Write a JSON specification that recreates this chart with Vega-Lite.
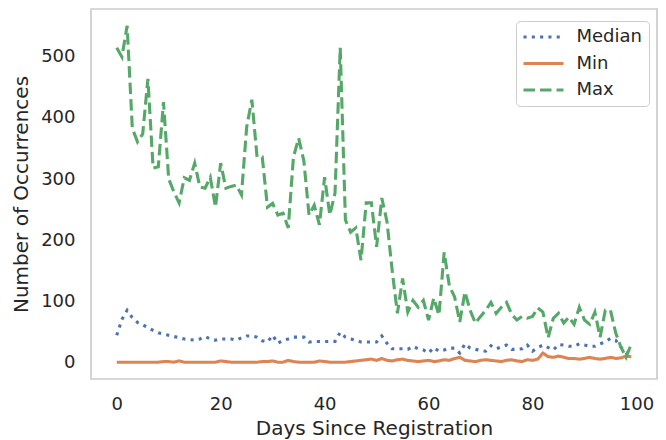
{
  "$schema": "https://vega.github.io/schema/vega-lite/v6.json",
  "width": 566,
  "height": 370,
  "autosize": {"type": "none"},
  "padding": {"left": 91, "top": 9, "right": 9, "bottom": 61},
  "background": "white",
  "config": {
    "view": {"stroke": "#cccccc", "strokeWidth": 1.7},
    "axis": {"domain": false, "ticks": false, "grid": false, "labelFont": "DejaVu Sans", "labelFontSize": 18, "labelColor": "#262626", "labelPadding": 16, "titleFont": "DejaVu Sans", "titleFontSize": 20, "titleColor": "#262626", "titleFontWeight": "normal"},
    "legend": {"labelFont": "DejaVu Sans", "labelFontSize": 18, "labelColor": "#262626"}
  },
  "data": {"values": [
{"day":0,"series":"Median","value":44},{"day":1,"series":"Median","value":70},{"day":2,"series":"Median","value":85},{"day":3,"series":"Median","value":73},{"day":4,"series":"Median","value":65},{"day":5,"series":"Median","value":61},{"day":6,"series":"Median","value":57},{"day":7,"series":"Median","value":52},{"day":8,"series":"Median","value":48},{"day":9,"series":"Median","value":46},
{"day":10,"series":"Median","value":44},{"day":11,"series":"Median","value":42},{"day":12,"series":"Median","value":40},{"day":13,"series":"Median","value":38},{"day":14,"series":"Median","value":37},{"day":15,"series":"Median","value":36},{"day":16,"series":"Median","value":38},{"day":17,"series":"Median","value":42},{"day":18,"series":"Median","value":38},{"day":19,"series":"Median","value":36},
{"day":20,"series":"Median","value":38},{"day":21,"series":"Median","value":38},{"day":22,"series":"Median","value":38},{"day":23,"series":"Median","value":36},{"day":24,"series":"Median","value":40},{"day":25,"series":"Median","value":43},{"day":26,"series":"Median","value":43},{"day":27,"series":"Median","value":41},{"day":28,"series":"Median","value":35},{"day":29,"series":"Median","value":33},
{"day":30,"series":"Median","value":44},{"day":31,"series":"Median","value":31},{"day":32,"series":"Median","value":36},{"day":33,"series":"Median","value":38},{"day":34,"series":"Median","value":41},{"day":35,"series":"Median","value":41},{"day":36,"series":"Median","value":41},{"day":37,"series":"Median","value":33},{"day":38,"series":"Median","value":34},{"day":39,"series":"Median","value":34},
{"day":40,"series":"Median","value":34},{"day":41,"series":"Median","value":34},{"day":42,"series":"Median","value":34},{"day":43,"series":"Median","value":49},{"day":44,"series":"Median","value":41},{"day":45,"series":"Median","value":38},{"day":46,"series":"Median","value":36},{"day":47,"series":"Median","value":33},{"day":48,"series":"Median","value":33},{"day":49,"series":"Median","value":33},
{"day":50,"series":"Median","value":33},{"day":51,"series":"Median","value":43},{"day":52,"series":"Median","value":31},{"day":53,"series":"Median","value":22},{"day":54,"series":"Median","value":22},{"day":55,"series":"Median","value":22},{"day":56,"series":"Median","value":21},{"day":57,"series":"Median","value":26},{"day":58,"series":"Median","value":22},{"day":59,"series":"Median","value":20},
{"day":60,"series":"Median","value":15},{"day":61,"series":"Median","value":24},{"day":62,"series":"Median","value":18},{"day":63,"series":"Median","value":20},{"day":64,"series":"Median","value":23},{"day":65,"series":"Median","value":23},{"day":66,"series":"Median","value":15},{"day":67,"series":"Median","value":30},{"day":68,"series":"Median","value":23},{"day":69,"series":"Median","value":21},
{"day":70,"series":"Median","value":19},{"day":71,"series":"Median","value":18},{"day":72,"series":"Median","value":27},{"day":73,"series":"Median","value":22},{"day":74,"series":"Median","value":25},{"day":75,"series":"Median","value":28},{"day":76,"series":"Median","value":21},{"day":77,"series":"Median","value":21},{"day":78,"series":"Median","value":22},{"day":79,"series":"Median","value":28},
{"day":80,"series":"Median","value":18},{"day":81,"series":"Median","value":24},{"day":82,"series":"Median","value":28},{"day":83,"series":"Median","value":24},{"day":84,"series":"Median","value":20},{"day":85,"series":"Median","value":29},{"day":86,"series":"Median","value":28},{"day":87,"series":"Median","value":26},{"day":88,"series":"Median","value":26},{"day":89,"series":"Median","value":30},
{"day":90,"series":"Median","value":28},{"day":91,"series":"Median","value":26},{"day":92,"series":"Median","value":26},{"day":93,"series":"Median","value":30},{"day":94,"series":"Median","value":33},{"day":95,"series":"Median","value":39},{"day":96,"series":"Median","value":36},{"day":97,"series":"Median","value":25},{"day":98,"series":"Median","value":15},{"day":99,"series":"Median","value":16},
{"day":0,"series":"Min","value":0},{"day":1,"series":"Min","value":0},{"day":2,"series":"Min","value":0},{"day":3,"series":"Min","value":0},{"day":4,"series":"Min","value":0},{"day":5,"series":"Min","value":0},{"day":6,"series":"Min","value":0},{"day":7,"series":"Min","value":0},{"day":8,"series":"Min","value":0},{"day":9,"series":"Min","value":1},
{"day":10,"series":"Min","value":1},{"day":11,"series":"Min","value":0},{"day":12,"series":"Min","value":2},{"day":13,"series":"Min","value":0},{"day":14,"series":"Min","value":0},{"day":15,"series":"Min","value":0},{"day":16,"series":"Min","value":0},{"day":17,"series":"Min","value":0},{"day":18,"series":"Min","value":0},{"day":19,"series":"Min","value":0},
{"day":20,"series":"Min","value":2},{"day":21,"series":"Min","value":1},{"day":22,"series":"Min","value":0},{"day":23,"series":"Min","value":0},{"day":24,"series":"Min","value":0},{"day":25,"series":"Min","value":0},{"day":26,"series":"Min","value":0},{"day":27,"series":"Min","value":0},{"day":28,"series":"Min","value":1},{"day":29,"series":"Min","value":1},
{"day":30,"series":"Min","value":2},{"day":31,"series":"Min","value":0},{"day":32,"series":"Min","value":0},{"day":33,"series":"Min","value":3},{"day":34,"series":"Min","value":1},{"day":35,"series":"Min","value":0},{"day":36,"series":"Min","value":0},{"day":37,"series":"Min","value":0},{"day":38,"series":"Min","value":0},{"day":39,"series":"Min","value":2},
{"day":40,"series":"Min","value":1},{"day":41,"series":"Min","value":0},{"day":42,"series":"Min","value":0},{"day":43,"series":"Min","value":0},{"day":44,"series":"Min","value":0},{"day":45,"series":"Min","value":1},{"day":46,"series":"Min","value":2},{"day":47,"series":"Min","value":3},{"day":48,"series":"Min","value":4},{"day":49,"series":"Min","value":5},
{"day":50,"series":"Min","value":3},{"day":51,"series":"Min","value":6},{"day":52,"series":"Min","value":3},{"day":53,"series":"Min","value":2},{"day":54,"series":"Min","value":4},{"day":55,"series":"Min","value":5},{"day":56,"series":"Min","value":3},{"day":57,"series":"Min","value":2},{"day":58,"series":"Min","value":1},{"day":59,"series":"Min","value":2},
{"day":60,"series":"Min","value":3},{"day":61,"series":"Min","value":1},{"day":62,"series":"Min","value":2},{"day":63,"series":"Min","value":4},{"day":64,"series":"Min","value":3},{"day":65,"series":"Min","value":6},{"day":66,"series":"Min","value":8},{"day":67,"series":"Min","value":3},{"day":68,"series":"Min","value":2},{"day":69,"series":"Min","value":1},
{"day":70,"series":"Min","value":3},{"day":71,"series":"Min","value":4},{"day":72,"series":"Min","value":3},{"day":73,"series":"Min","value":2},{"day":74,"series":"Min","value":1},{"day":75,"series":"Min","value":3},{"day":76,"series":"Min","value":4},{"day":77,"series":"Min","value":2},{"day":78,"series":"Min","value":1},{"day":79,"series":"Min","value":4},
{"day":80,"series":"Min","value":3},{"day":81,"series":"Min","value":5},{"day":82,"series":"Min","value":15},{"day":83,"series":"Min","value":9},{"day":84,"series":"Min","value":8},{"day":85,"series":"Min","value":10},{"day":86,"series":"Min","value":8},{"day":87,"series":"Min","value":6},{"day":88,"series":"Min","value":6},{"day":89,"series":"Min","value":5},
{"day":90,"series":"Min","value":6},{"day":91,"series":"Min","value":8},{"day":92,"series":"Min","value":6},{"day":93,"series":"Min","value":5},{"day":94,"series":"Min","value":6},{"day":95,"series":"Min","value":8},{"day":96,"series":"Min","value":6},{"day":97,"series":"Min","value":7},{"day":98,"series":"Min","value":10},{"day":99,"series":"Min","value":9},
{"day":0,"series":"Max","value":515},{"day":1,"series":"Max","value":500},{"day":2,"series":"Max","value":551},{"day":3,"series":"Max","value":383},{"day":4,"series":"Max","value":361},{"day":5,"series":"Max","value":374},{"day":6,"series":"Max","value":464},{"day":7,"series":"Max","value":318},{"day":8,"series":"Max","value":320},{"day":9,"series":"Max","value":426},
{"day":10,"series":"Max","value":300},{"day":11,"series":"Max","value":279},{"day":12,"series":"Max","value":261},{"day":13,"series":"Max","value":302},{"day":14,"series":"Max","value":298},{"day":15,"series":"Max","value":326},{"day":16,"series":"Max","value":287},{"day":17,"series":"Max","value":285},{"day":18,"series":"Max","value":303},{"day":19,"series":"Max","value":254},
{"day":20,"series":"Max","value":326},{"day":21,"series":"Max","value":285},{"day":22,"series":"Max","value":288},{"day":23,"series":"Max","value":290},{"day":24,"series":"Max","value":274},{"day":25,"series":"Max","value":385},{"day":26,"series":"Max","value":430},{"day":27,"series":"Max","value":336},{"day":28,"series":"Max","value":336},{"day":29,"series":"Max","value":254},
{"day":30,"series":"Max","value":260},{"day":31,"series":"Max","value":241},{"day":32,"series":"Max","value":244},{"day":33,"series":"Max","value":220},{"day":34,"series":"Max","value":336},{"day":35,"series":"Max","value":367},{"day":36,"series":"Max","value":330},{"day":37,"series":"Max","value":241},{"day":38,"series":"Max","value":257},{"day":39,"series":"Max","value":225},
{"day":40,"series":"Max","value":303},{"day":41,"series":"Max","value":241},{"day":42,"series":"Max","value":277},{"day":43,"series":"Max","value":515},{"day":44,"series":"Max","value":233},{"day":45,"series":"Max","value":213},{"day":46,"series":"Max","value":220},{"day":47,"series":"Max","value":167},{"day":48,"series":"Max","value":261},{"day":49,"series":"Max","value":261},
{"day":50,"series":"Max","value":189},{"day":51,"series":"Max","value":269},{"day":52,"series":"Max","value":230},{"day":53,"series":"Max","value":150},{"day":54,"series":"Max","value":80},{"day":55,"series":"Max","value":137},{"day":56,"series":"Max","value":82},{"day":57,"series":"Max","value":101},{"day":58,"series":"Max","value":90},{"day":59,"series":"Max","value":101},
{"day":60,"series":"Max","value":69},{"day":61,"series":"Max","value":105},{"day":62,"series":"Max","value":77},{"day":63,"series":"Max","value":180},{"day":64,"series":"Max","value":125},{"day":65,"series":"Max","value":107},{"day":66,"series":"Max","value":66},{"day":67,"series":"Max","value":115},{"day":68,"series":"Max","value":85},{"day":69,"series":"Max","value":64},
{"day":70,"series":"Max","value":75},{"day":71,"series":"Max","value":85},{"day":72,"series":"Max","value":98},{"day":73,"series":"Max","value":80},{"day":74,"series":"Max","value":90},{"day":75,"series":"Max","value":98},{"day":76,"series":"Max","value":78},{"day":77,"series":"Max","value":69},{"day":78,"series":"Max","value":75},{"day":79,"series":"Max","value":72},
{"day":80,"series":"Max","value":75},{"day":81,"series":"Max","value":89},{"day":82,"series":"Max","value":82},{"day":83,"series":"Max","value":40},{"day":84,"series":"Max","value":72},{"day":85,"series":"Max","value":80},{"day":86,"series":"Max","value":64},{"day":87,"series":"Max","value":74},{"day":88,"series":"Max","value":62},{"day":89,"series":"Max","value":90},
{"day":90,"series":"Max","value":69},{"day":91,"series":"Max","value":62},{"day":92,"series":"Max","value":82},{"day":93,"series":"Max","value":41},{"day":94,"series":"Max","value":85},{"day":95,"series":"Max","value":85},{"day":96,"series":"Max","value":48},{"day":97,"series":"Max","value":25},{"day":98,"series":"Max","value":8},{"day":99,"series":"Max","value":30}
  ]},
  "mark": {"type": "line", "strokeWidth": 3.1, "strokeCap": "butt", "clip": true},
  "encoding": {
    "x": {"field": "day", "type": "quantitative", "title": "Days Since Registration",
          "scale": {"domain": [-4.95, 103.95], "nice": false, "zero": false},
          "axis": {"values": [0, 20, 40, 60, 80, 100], "titlePadding": 5}},
    "y": {"field": "value", "type": "quantitative", "title": "Number of Occurrences",
          "scale": {"domain": [-27.55, 578.55], "nice": false, "zero": false},
          "axis": {"values": [0, 100, 200, 300, 400, 500], "titlePadding": 9}},
    "color": {"field": "series", "type": "nominal",
              "scale": {"domain": ["Median", "Min", "Max"], "range": ["#4c72b0", "#dd8452", "#55a868"]},
              "legend": {"title": null, "orient": "none", "legendX": 425, "legendY": 12, "padding": 7, "cornerRadius": 4, "strokeColor": "#cccccc", "fillColor": "rgba(255,255,255,0.8)", "symbolType": "M-3,0L3,0", "symbolSize": 178, "symbolStrokeWidth": 3, "symbolOffset": 11.5, "labelOffset": 24, "rowPadding": 8.5}},
    "strokeDash": {"field": "series", "type": "nominal",
              "scale": {"domain": ["Median", "Min", "Max"], "range": [[3.1, 5.2], [1, 0], [11.5, 5]]},
              "legend": {"title": null, "orient": "none", "legendX": 425, "legendY": 12, "padding": 7, "cornerRadius": 4, "strokeColor": "#cccccc", "fillColor": "rgba(255,255,255,0.8)", "symbolType": "M-3,0L3,0", "symbolSize": 178, "symbolStrokeWidth": 3, "symbolOffset": 11.5, "labelOffset": 24, "rowPadding": 8.5}}
  }
}
